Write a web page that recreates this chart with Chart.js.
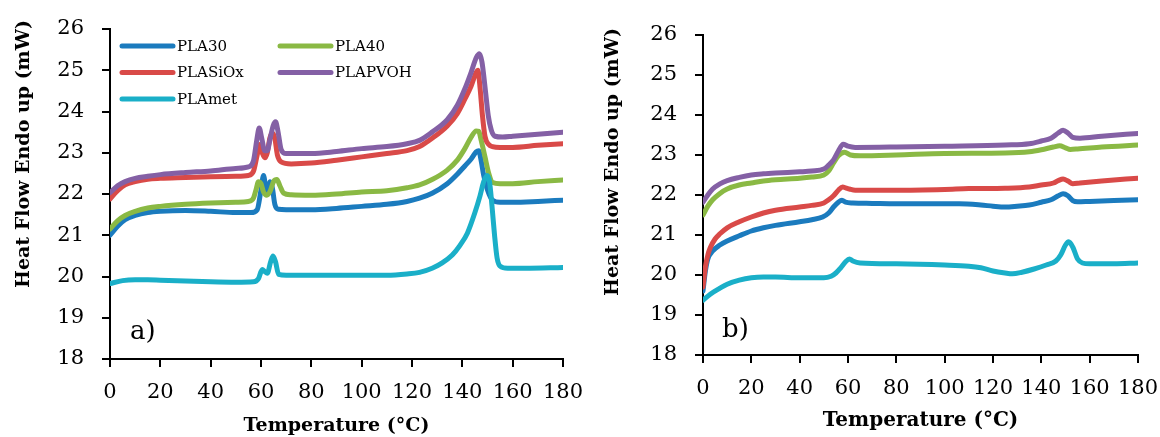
<!DOCTYPE html>
<html>
<head>
<meta charset="utf-8">
<title>DSC curves</title>
<script src="https://cdn.jsdelivr.net/npm/chart.js@4.4.0/dist/chart.umd.min.js"></script>
<style>
  html, body { margin: 0; padding: 0; background: #fff; }
  #wrap { position: relative; width: 1160px; height: 437px; overflow: hidden; }
  canvas { position: absolute; top: 0; }
  #chartA { left: 0; }
  #chartB { left: 590px; }
</style>
</head>
<body>
<div id="wrap">
  <canvas id="chartA" width="590" height="437"></canvas>
  <canvas id="chartB" width="570" height="437"></canvas>
</div>
<script>
// series names + colours (Excel order)
const seriesNames  = ["PLA30", "PLA40", "PLASiOx", "PLAPVOH", "PLAmet"];
const seriesColors = ["#1b7bbe", "#8ab944", "#d94a48", "#8460a5", "#1aafc8"];

const xTicks = [0, 20, 40, 60, 80, 100, 120, 140, 160, 180];
const yTicks = [18, 19, 20, 21, 22, 23, 24, 25, 26];

// ---- panel a) ----
const tA_PLA30 = [0, 3, 6, 10, 15, 20, 30, 40, 50, 56, 58.5, 60, 61, 62, 62.7, 63.6, 64.5, 65.5, 67, 70, 80, 90, 100, 110, 118, 123, 128, 134, 138, 141, 143.5, 145.5, 146.5, 147.5, 148.5, 150, 152, 155, 160, 170, 180];
const vA_PLA30 = [21.0, 21.22, 21.38, 21.48, 21.55, 21.58, 21.6, 21.58, 21.55, 21.55, 21.62, 22.1, 22.45, 22.1, 22.0, 22.3, 22.15, 21.75, 21.63, 21.62, 21.62, 21.65, 21.7, 21.75, 21.82, 21.9, 22.02, 22.25, 22.48, 22.68, 22.85, 23.02, 23.05, 22.8, 22.45, 22.1, 21.85, 21.8, 21.8, 21.82, 21.85];

const tA_PLA40 = [0, 3, 6, 10, 15, 20, 30, 40, 50, 55, 57, 58, 59, 60, 61, 62.3, 63.5, 65, 66.3, 67.5, 69, 72, 80, 90, 100, 110, 118, 123, 128, 134, 138, 141, 143.5, 145.5, 146.5, 147.5, 149, 150.5, 152, 155, 160, 170, 180];
const vA_PLA40 = [21.15, 21.35, 21.48, 21.58, 21.66, 21.7, 21.75, 21.78, 21.8, 21.82, 21.9, 22.1, 22.3, 22.25, 22.05, 21.97, 22.05, 22.3, 22.35, 22.2, 22.02, 21.98, 21.97, 22.0, 22.05, 22.08, 22.15, 22.22, 22.35, 22.58, 22.82, 23.1, 23.38, 23.53, 23.52, 23.3, 22.9, 22.5, 22.28, 22.25, 22.25, 22.3, 22.34];

const tA_SiOx = [0, 3, 6, 10, 15, 20, 30, 40, 50, 55, 57, 58.5, 59.5, 60.5, 61.5, 62.5, 63.5, 64.5, 65.5, 66.5, 68, 72, 80, 90, 100, 110, 118, 123, 128, 134, 138, 141, 143.5, 145.5, 146.2, 147, 148, 149, 150.5, 152, 155, 160, 170, 180];
const vA_SiOx = [21.88, 22.08, 22.22, 22.3, 22.36, 22.38, 22.4, 22.42, 22.43, 22.45, 22.55, 22.95, 23.2, 23.0, 22.88, 23.0, 23.35, 23.48, 23.35, 22.95, 22.78, 22.73, 22.75, 22.82, 22.9, 22.98, 23.05, 23.15, 23.35, 23.65, 23.95, 24.3, 24.62, 24.95, 25.0, 24.6, 23.9, 23.4, 23.2, 23.15, 23.13, 23.13, 23.18, 23.22];

const tA_PVOH = [0, 3, 6, 10, 15, 20, 30, 40, 50, 55, 57, 58.3, 59.3, 60.3, 61.5, 62.5, 63.5, 64.8, 65.8, 66.8, 68, 70, 80, 90, 100, 110, 118, 123, 128, 134, 138, 141, 143.5, 145.5, 146.8, 147.8, 149, 150.3, 151.5, 153, 156, 160, 170, 180];
const vA_PVOH = [22.03, 22.2, 22.3, 22.38, 22.43, 22.47, 22.52, 22.56, 22.62, 22.66, 22.8, 23.3, 23.6, 23.35, 23.05, 23.05, 23.3, 23.65, 23.75, 23.5, 23.08, 22.98, 22.98, 23.03, 23.1, 23.15, 23.22, 23.3, 23.5, 23.8, 24.15, 24.55, 24.95, 25.3, 25.4, 25.2, 24.6, 23.9, 23.55, 23.4, 23.38, 23.4, 23.45, 23.5];

const tA_met = [0, 5, 10, 15, 20, 30, 40, 50, 57, 59, 60.5, 61.5, 62.5, 63.8, 64.8, 65.8, 67, 70, 80, 90, 100, 110, 118, 123, 128, 132, 136, 139, 142, 145, 147, 148.5, 149.8, 150.8, 151.8, 152.8, 153.8, 155, 158, 165, 180];
const vA_met = [19.83, 19.9, 19.92, 19.92, 19.91, 19.89, 19.87, 19.86, 19.87, 19.95, 20.17, 20.12, 20.08, 20.35, 20.5, 20.35, 20.05, 20.03, 20.03, 20.03, 20.03, 20.03, 20.06, 20.1, 20.2, 20.33, 20.52, 20.75, 21.05, 21.55, 21.95, 22.3, 22.45, 22.3, 21.7, 21.0, 20.45, 20.25, 20.2, 20.2, 20.22];

// ---- panel b) ----
const tB_PLA30 = [0, 1, 2, 4, 7, 10, 15, 20, 25, 30, 40, 45, 49.5, 52, 54, 56, 57.5, 59, 62, 70, 80, 90, 100, 106, 115, 120, 125, 130, 135, 140, 144, 147, 149, 151, 153, 155, 160, 170, 180];
const vB_PLA30 = [19.6, 20.1, 20.4, 20.6, 20.75, 20.85, 20.98, 21.1, 21.18, 21.24, 21.33, 21.38, 21.45, 21.55, 21.7, 21.82, 21.87, 21.82, 21.8, 21.79, 21.78, 21.78, 21.78, 21.78, 21.75, 21.72, 21.7, 21.72, 21.75, 21.82, 21.88, 21.98, 22.03, 21.98, 21.86, 21.83, 21.84, 21.86, 21.88];

const tB_PLA40 = [0, 2, 4, 7, 10, 15, 20, 25, 30, 40, 45, 50, 52, 54, 56, 58.6, 61, 65, 80, 100, 125, 135, 140, 145, 147.6, 150, 152, 155, 165, 180];
const vB_PLA40 = [21.5, 21.72, 21.88, 22.04, 22.15, 22.25, 22.3, 22.35, 22.38, 22.42, 22.45, 22.5, 22.6, 22.8, 22.98, 23.07, 23.0, 22.98, 23.0, 23.04, 23.05, 23.08, 23.13, 23.2, 23.23, 23.18, 23.14, 23.15, 23.2, 23.25];

const tB_SiOx = [0, 1, 2, 3, 5, 7, 10, 15, 20, 25, 30, 40, 45, 50, 52, 54, 56, 57.8, 59, 60.6, 63, 70, 80, 100, 110, 125, 135, 140, 145, 147, 149, 151, 153, 156, 165, 180];
const vB_SiOx = [19.7, 20.2, 20.5, 20.68, 20.9, 21.03, 21.18, 21.33, 21.45, 21.55, 21.62, 21.7, 21.74, 21.8, 21.88, 21.98, 22.12, 22.2, 22.18, 22.15, 22.12, 22.12, 22.12, 22.14, 22.16, 22.17, 22.2, 22.25, 22.3, 22.36, 22.4, 22.35, 22.28, 22.3, 22.35, 22.42];

const tB_PVOH = [0, 2, 4, 7, 10, 15, 20, 25, 30, 40, 45, 50, 52, 54, 56, 58, 60, 63, 80, 100, 125, 135, 140, 144, 147, 149, 151, 153, 156, 165, 180];
const vB_PVOH = [21.82, 22.0, 22.15, 22.28, 22.36, 22.44, 22.5, 22.53, 22.55, 22.58, 22.6, 22.65, 22.75, 22.88, 23.1, 23.27, 23.22, 23.19, 23.2, 23.22, 23.25, 23.28, 23.35, 23.42, 23.55, 23.62, 23.55, 23.44, 23.42, 23.47, 23.54];

const tB_met = [0, 3, 7, 10, 15, 20, 25, 30, 40, 50, 53, 55, 57, 59, 60.6, 62, 65, 80, 100, 110, 115, 120, 125, 128, 132, 137, 142, 146, 148, 150, 151.3, 153, 155, 157, 160, 170, 180];
const vB_met = [19.37, 19.52, 19.67, 19.77, 19.87, 19.93, 19.95, 19.95, 19.93, 19.93, 19.97, 20.05, 20.18, 20.33, 20.4, 20.35, 20.3, 20.28, 20.25, 20.22, 20.18, 20.1, 20.05, 20.03, 20.07, 20.15, 20.25, 20.35, 20.5, 20.75, 20.83, 20.7, 20.4, 20.3, 20.28, 20.28, 20.3];

const panelA = [[tA_PLA30, vA_PLA30], [tA_PLA40, vA_PLA40], [tA_SiOx, vA_SiOx], [tA_PVOH, vA_PVOH], [tA_met, vA_met]];
const panelB = [[tB_PLA30, vB_PLA30], [tB_PLA40, vB_PLA40], [tB_SiOx, vB_SiOx], [tB_PVOH, vB_PVOH], [tB_met, vB_met]];

function makeDatasets(panel) {
  return panel.map(([t, v], i) => ({
    label: seriesNames[i],
    data: t.map((x, k) => ({ x: x, y: v[k] })),
    borderColor: seriesColors[i],
    borderWidth: 5,
    pointRadius: 0,
    cubicInterpolationMode: "monotone",
    borderCapStyle: "round",
    borderJoinStyle: "round",
    fill: false,
    order: panel.length - i   // later series drawn on top, like Excel
  }));
}

const tickFont = { family: "'DejaVu Serif'", size: 21 };

// draws y title, panel letter and (optionally) the inner legend
const extras = {
  id: "extras",
  afterDraw(chart, args, o) {
    const ctx = chart.ctx;
    ctx.save();
    ctx.fillStyle = "#000";
    ctx.font = "bold 19px 'DejaVu Serif'";
    ctx.textAlign = "center";
    ctx.textBaseline = "middle";
    ctx.translate(o.yTitleX, o.yTitleY);
    ctx.rotate(-Math.PI / 2);
    ctx.fillText("Heat Flow Endo up (mW)", 0, 0);
    ctx.restore();

    ctx.save();
    ctx.fillStyle = "#000";
    ctx.font = "26px 'DejaVu Serif'";
    ctx.textAlign = "left";
    ctx.textBaseline = "alphabetic";
    ctx.fillText(o.panel, o.panelX, o.panelY);
    ctx.restore();

    if (o.legend) {
      const pos = [[120, 46], [278, 46], [120, 72.5], [278, 72.5], [120, 99]];
      ctx.save();
      ctx.font = "15px 'DejaVu Serif'";
      ctx.textBaseline = "middle";
      ctx.lineCap = "round";
      ctx.lineWidth = 5;
      chart.data.datasets.forEach((ds, i) => {
        const [lx, ly] = pos[i];
        ctx.strokeStyle = ds.borderColor;
        ctx.beginPath();
        ctx.moveTo(lx + 2, ly);
        ctx.lineTo(lx + 53, ly);
        ctx.stroke();
        ctx.fillStyle = "#000";
        ctx.fillText(ds.label, lx + 57, ly + 1);
      });
      ctx.restore();
    }
  }
};

function makeChart(id, panel, cfg) {
  return new Chart(document.getElementById(id), {
    type: "line",
    data: { datasets: makeDatasets(panel) },
    options: {
      responsive: false,
      animation: false,
      events: [],
      layout: { padding: { top: cfg.top, right: cfg.right, left: 0, bottom: 0 } },
      plugins: {
        legend: { display: false },
        tooltip: { enabled: false },
        extras: cfg.extras
      },
      scales: {
        x: {
          type: "linear",
          min: 0, max: 180,
          afterBuildTicks: (s) => { s.ticks = xTicks.map(v => ({ value: v })); },
          afterFit: (s) => { s.height = cfg.xHeight; s.paddingLeft = 0; s.paddingRight = 0; },
          border: { display: true, color: "#000", width: 2 },
          grid: { drawOnChartArea: false, drawTicks: true, tickLength: 8, color: "#000", lineWidth: 2 },
          ticks: { color: "#000", font: tickFont, padding: 13, maxRotation: 0 },
          title: {
            display: true, text: "Temperature (°C)", color: "#000",
            font: { family: "'DejaVu Serif'", size: cfg.xTitleSize, weight: "bold" },
            padding: { top: 0, bottom: cfg.xTitlePad }
          }
        },
        y: {
          min: 18, max: 26,
          afterBuildTicks: (s) => { s.ticks = yTicks.map(v => ({ value: v })); },
          afterFit: (s) => { s.width = cfg.yWidth; s.paddingTop = 0; s.paddingBottom = 0; },
          border: { display: true, color: "#000", width: 2 },
          grid: { drawOnChartArea: false, drawTicks: true, tickLength: 8, color: "#000", lineWidth: 2 },
          ticks: { color: "#000", font: tickFont, padding: 18 }
        }
      }
    },
    plugins: [extras]
  });
}

makeChart("chartA", panelA, {
  top: 29, right: 27, xHeight: 78, yWidth: 110, xTitleSize: 19, xTitlePad: 0,
  extras: { panel: "a)", panelX: 130, panelY: 339, yTitleX: 24, yTitleY: 154, legend: true }
});

makeChart("chartB", panelB, {
  top: 35, right: 22, xHeight: 82, yWidth: 113, xTitleSize: 20, xTitlePad: 4,
  extras: { panel: "b)", panelX: 132, panelY: 337, yTitleX: 23, yTitleY: 162, legend: false }
});
</script>
</body>
</html>
